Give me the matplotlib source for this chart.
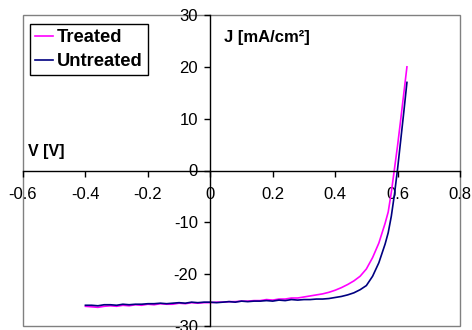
import matplotlib.pyplot as plt
from matplotlib.patches import Rectangle

plt.rcParams["font.family"] = ["Liberation Sans", "DejaVu Sans"]
plt.rcParams["axes.unicode_minus"] = False

# J-V curves
voltage = [-0.40, -0.38, -0.36, -0.34, -0.32, -0.30, -0.28, -0.26, -0.24, -0.22,
           -0.20, -0.18, -0.16, -0.14, -0.12, -0.10, -0.08, -0.06, -0.04, -0.02,
           0.00, 0.02, 0.04, 0.06, 0.08, 0.10, 0.12, 0.14, 0.16, 0.18,
           0.20, 0.22, 0.24, 0.26, 0.28, 0.30, 0.32, 0.34, 0.36, 0.38,
           0.40, 0.42, 0.44, 0.46, 0.48, 0.50, 0.52, 0.54, 0.56, 0.57,
           0.58, 0.59, 0.60, 0.61, 0.62, 0.63]

j_treated = [-26.2, -26.3, -26.4, -26.2, -26.1, -26.2, -26.0, -26.1, -25.9, -26.0,
             -25.8, -25.9, -25.7, -25.8, -25.8, -25.6, -25.7, -25.5, -25.6, -25.5,
             -25.5, -25.4, -25.4, -25.3, -25.3, -25.2, -25.2, -25.1, -25.1, -24.9,
             -25.0, -24.8, -24.8, -24.6, -24.6, -24.4, -24.2, -24.0, -23.8, -23.5,
             -23.1, -22.6, -22.0, -21.3, -20.4, -19.0, -16.8, -14.0, -10.2, -8.0,
             -4.2, 0.3, 4.8, 9.8, 14.9, 20.0]

j_untreated = [-26.0, -26.0, -26.1, -25.9, -25.9, -26.0, -25.8, -25.9, -25.8, -25.8,
               -25.7, -25.7, -25.6, -25.7, -25.6, -25.5, -25.6, -25.4, -25.5, -25.4,
               -25.4, -25.5, -25.4, -25.3, -25.4, -25.2, -25.3, -25.2, -25.2, -25.1,
               -25.2, -25.0, -25.1, -24.9, -25.0, -24.9, -24.9, -24.8, -24.8, -24.7,
               -24.5, -24.3, -24.0, -23.6, -23.0, -22.2, -20.4, -17.8, -14.2, -12.0,
               -8.8, -4.6, 0.3, 5.8, 11.3, 17.0]

x_ticks = [-0.6, -0.4, -0.2, 0, 0.2, 0.4, 0.6, 0.8]
x_labels = ["-0.6", "-0.4", "-0.2", "0", "0.2", "0.4", "0.6", "0.8"]
y_ticks = [-30, -20, -10, 0, 10, 20, 30]

W, H = 472, 330
fig = plt.figure(figsize=(W / 100, H / 100), dpi=100)
ax = fig.add_axes([23 / W, 1 - 326 / H, (460 - 23) / W, (326 - 15) / H])

ax.plot(voltage, j_treated, color="#FF00FF", lw=1.2, label="Treated")
ax.plot(voltage, j_untreated, color="#000080", lw=1.2, label="Untreated")

ax.set_xlim(-0.6, 0.8)
ax.set_ylim(-30, 30)

# axes crossing at the origin, Excel style
ax.spines["left"].set_position(("data", 0))
ax.spines["bottom"].set_position(("data", 0))
ax.spines["top"].set_visible(False)
ax.spines["right"].set_visible(False)
for s in ["left", "bottom"]:
    ax.spines[s].set_linewidth(1.0)

ax.set_xticks(x_ticks)
ax.set_xticklabels(x_labels)
ax.set_yticks(y_ticks)
ax.tick_params(axis="x", direction="out", length=4, width=1, pad=8, labelsize=12)
ax.tick_params(axis="y", direction="out", length=4, width=1, pad=5, labelsize=12)

# grey plot-area border
ax.add_patch(Rectangle((0, 0), 1, 1, transform=ax.transAxes, fill=False,
                       edgecolor="#808080", lw=1.0, clip_on=False, zorder=0))

ax.text(-0.583, 3.6, "V [V]", fontsize=11.5, fontweight="bold", va="center")
ax.text(0.045, 25.6, "J [mA/cm²]", fontsize=12, fontweight="bold", va="center")

ax.legend(loc="upper left", bbox_to_anchor=(0.016, 0.971), borderaxespad=0,
          fancybox=False, edgecolor="black", framealpha=1,
          prop={"size": 13.2, "weight": "bold"},
          handlelength=0.95, handletextpad=0.25, labelspacing=0.38, borderpad=0.28)

fig.savefig("out.png", dpi=100)
